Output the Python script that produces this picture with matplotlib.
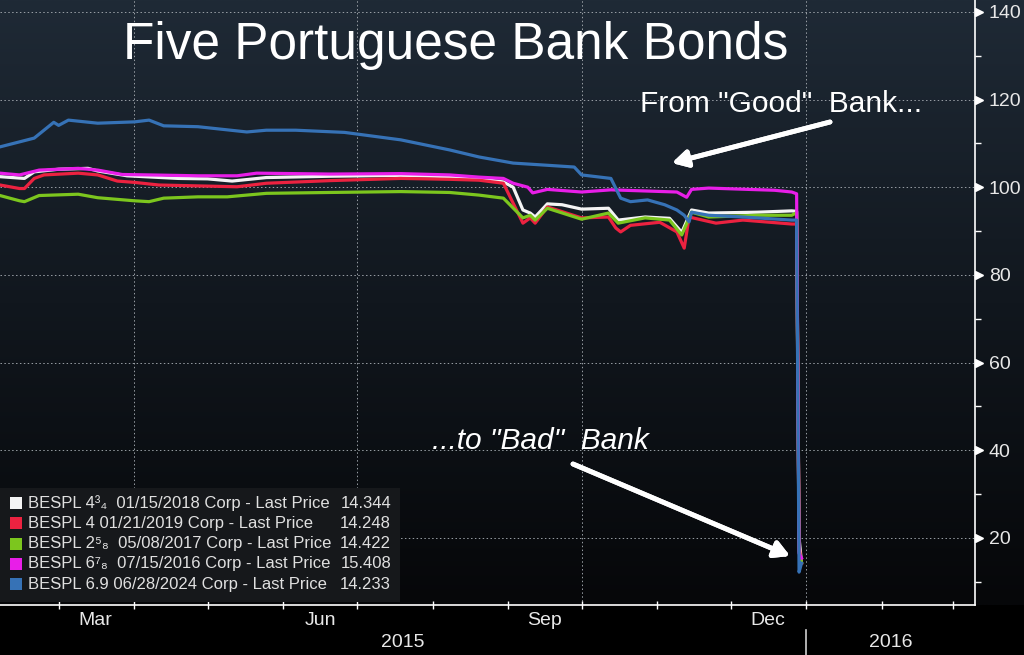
import numpy as np
import pandas as pd
import matplotlib
matplotlib.use("Agg")
import matplotlib.pyplot as plt
import matplotlib.dates as mdates
from matplotlib.patches import Rectangle

# ---- data ----
white_dates = ["2015-02-05", "2015-02-15", "2015-02-19", "2015-03-01", "2015-03-13", "2015-03-17",
               "2015-03-29", "2015-04-19", "2015-05-01", "2015-05-11", "2015-05-25", "2015-06-20",
               "2015-07-19", "2015-08-08", "2015-08-20", "2015-08-30", "2015-09-03", "2015-09-07",
               "2015-09-10", "2015-09-12", "2015-09-17", "2015-09-23", "2015-10-01", "2015-10-12",
               "2015-10-16", "2015-10-27", "2015-11-06", "2015-11-11", "2015-11-15", "2015-11-22",
               "2015-12-12", "2015-12-26", "2015-12-28", "2015-12-29", "2015-12-30"]
white_vals = [102.4, 102.0, 103.5, 104.1, 104.3, 103.7, 102.6, 102.0, 101.9, 101.4, 102.2, 102.5,
              102.7, 102.4, 101.9, 101.2, 100.0, 94.8, 94.1, 93.2, 96.2, 96.0, 95.0, 95.2,
              92.5, 93.2, 92.9, 89.7, 94.8, 94.1, 94.3, 94.6, 94.5, 20.0, 14.344]

red_dates = ["2015-02-05", "2015-02-13", "2015-02-15", "2015-02-19", "2015-02-23", "2015-03-09",
             "2015-03-17", "2015-03-25", "2015-04-01", "2015-04-11", "2015-04-27", "2015-05-13",
             "2015-05-25", "2015-06-20", "2015-07-19", "2015-08-08", "2015-08-20", "2015-08-30",
             "2015-09-07", "2015-09-10", "2015-09-12", "2015-09-17", "2015-10-01", "2015-10-12",
             "2015-10-15", "2015-10-17", "2015-10-21", "2015-11-02", "2015-11-09", "2015-11-12",
             "2015-11-14", "2015-11-25", "2015-12-06", "2015-12-26", "2015-12-28", "2015-12-29",
             "2015-12-30"]
red_vals = [100.5, 99.7, 99.7, 102.0, 102.8, 103.2, 102.8, 101.4, 101.1, 100.5, 100.3, 100.1,
            100.9, 101.5, 102.0, 101.8, 101.6, 100.9, 91.8, 93.0, 91.8, 95.5, 93.0, 93.2,
            90.7, 89.8, 91.3, 92.0, 89.8, 86.1, 93.2, 91.8, 92.5, 91.6, 91.6, 18.0, 14.248]

green_dates = ["2015-02-05", "2015-02-13", "2015-02-15", "2015-02-21", "2015-03-09", "2015-03-17",
               "2015-04-01", "2015-04-07", "2015-04-13", "2015-04-27", "2015-05-09", "2015-05-25",
               "2015-06-20", "2015-07-19", "2015-08-08", "2015-08-20", "2015-08-30", "2015-09-07",
               "2015-09-10", "2015-09-12", "2015-09-17", "2015-10-01", "2015-10-12", "2015-10-16",
               "2015-10-27", "2015-11-06", "2015-11-11", "2015-11-15", "2015-11-22", "2015-12-12",
               "2015-12-26", "2015-12-28", "2015-12-29", "2015-12-30"]
green_vals = [98.1, 96.9, 96.7, 98.1, 98.4, 97.6, 96.9, 96.7, 97.5, 97.8, 97.8, 98.6,
              98.8, 99.0, 98.8, 98.2, 97.5, 93.0, 93.6, 92.5, 95.2, 92.7, 94.1, 91.8,
              93.0, 92.5, 89.1, 94.3, 93.2, 93.6, 93.6, 94.2, 17.0, 14.422]

magenta_dates = ["2015-02-05", "2015-02-13", "2015-02-21", "2015-03-09", "2015-03-17", "2015-03-27",
                 "2015-04-07", "2015-04-27", "2015-05-13", "2015-05-21", "2015-06-20", "2015-07-19",
                 "2015-08-08", "2015-08-20", "2015-08-30", "2015-09-03", "2015-09-09", "2015-09-11",
                 "2015-09-17", "2015-10-01", "2015-10-13", "2015-11-09", "2015-11-13", "2015-11-15",
                 "2015-11-22", "2015-12-19", "2015-12-26", "2015-12-28", "2015-12-29", "2015-12-30"]
magenta_vals = [103.2, 102.8, 103.9, 104.3, 103.9, 102.9, 102.8, 102.6, 102.6, 103.2, 103.0, 103.1,
                102.8, 102.3, 102.0, 100.9, 100.0, 98.7, 99.5, 98.9, 99.4, 98.9, 97.7, 99.5,
                99.8, 99.3, 98.9, 98.5, 16.5, 15.408]

blue_dates = ["2015-02-05", "2015-02-19", "2015-02-27", "2015-03-01", "2015-03-05", "2015-03-17",
              "2015-04-01", "2015-04-07", "2015-04-13", "2015-04-27", "2015-05-17", "2015-05-25",
              "2015-06-06", "2015-06-26", "2015-07-19", "2015-08-08", "2015-08-20", "2015-09-03",
              "2015-09-17", "2015-09-28", "2015-10-01", "2015-10-13", "2015-10-17", "2015-10-21",
              "2015-10-28", "2015-11-04", "2015-11-09", "2015-11-12", "2015-11-14", "2015-11-15",
              "2015-11-22", "2015-12-06", "2015-12-26", "2015-12-28", "2015-12-29", "2015-12-30"]
blue_vals = [109.2, 111.2, 114.8, 114.1, 115.3, 114.6, 114.9, 115.3, 114.0, 113.8, 112.6, 113.0,
             113.0, 112.5, 110.8, 108.5, 106.9, 105.5, 105.0, 104.6, 102.8, 102.0, 97.5, 96.7,
             97.1, 96.0, 94.8, 93.6, 92.1, 94.3, 93.6, 93.2, 92.5, 92.5, 12.2, 14.233]

series_labels = ["BESPL 4\u00b3\u2084  01/15/2018 Corp - Last Price",
                 "BESPL 4 01/21/2019 Corp - Last Price",
                 "BESPL 2\u2075\u2088  05/08/2017 Corp - Last Price",
                 "BESPL 6\u2077\u2088  07/15/2016 Corp - Last Price",
                 "BESPL 6.9 06/28/2024 Corp - Last Price"]
last_prices = ["14.344", "14.248", "14.422", "15.408", "14.233"]
series_colors = ["#f4f4f4", "#ec2240", "#7cc61e", "#e81ee8", "#3672b6"]

month_labels = ["Mar", "Jun", "Sep", "Dec"]
month_label_dates = ["2015-03-16", "2015-06-16", "2015-09-16", "2015-12-16"]
year_labels = ["2015", "2016"]

W, H = 1024, 655
FONT = ["Liberation Sans", "DejaVu Sans"]
plt.rcParams["font.family"] = FONT


def px(x, y):
    # pixel position -> figure fraction
    return x / W, 1 - y / H


fig = plt.figure(figsize=(W / 100, H / 100), dpi=100, facecolor="black")

plot_bottom = 605
ax_bottom = 1 - plot_bottom / H

# gradient background behind the plot area
bg = fig.add_axes([0, ax_bottom, 1, 1 - ax_bottom])
top = np.array([31, 42, 54]) / 255
mid = np.array([17, 23, 30]) / 255
bot = np.array([6, 7, 9]) / 255
t = np.linspace(0, 1, 256)[:, None]
grad = np.where(t < 0.5, top + (mid - top) * (t / 0.5), mid + (bot - mid) * ((t - 0.5) / 0.5))
bg.imshow(grad[:, None, :].repeat(2, axis=1), aspect="auto", extent=[0, 1, 0, 1])
bg.set_axis_off()

ax = fig.add_axes([0, ax_bottom, 975 / W, 1 - ax_bottom])
ax.set_facecolor("none")

all_series = [(white_dates, white_vals), (red_dates, red_vals), (green_dates, green_vals),
              (magenta_dates, magenta_vals), (blue_dates, blue_vals)]
for (d, v), c in zip(all_series, series_colors):
    ax.plot(pd.to_datetime(d), v, color=c, lw=2.3, solid_joinstyle="round", zorder=3)

ax.set_xlim(pd.Timestamp("2015-02-05"), pd.Timestamp("2016-03-10"))
ax.set_ylim(4.7, 142.7)

# spines
for s in ["left", "top"]:
    ax.spines[s].set_visible(False)
for s in ["right", "bottom"]:
    ax.spines[s].set_color("white")
    ax.spines[s].set_linewidth(1.2)

# y axis on the right
ax.yaxis.tick_right()
ax.set_yticks(np.arange(20, 141, 20))
ax.set_yticks(np.arange(10, 141, 20), minor=True)
ax.tick_params(axis="y", which="major", length=0, pad=10, labelsize=14, labelcolor="#e8e8e8")
ax.tick_params(axis="y", which="minor", length=4, width=1, color="white", direction="out")
for yv in np.arange(20, 141, 20):
    ax.plot([1.004], [yv], marker=">", ms=6, color="white", transform=ax.get_yaxis_transform(),
            clip_on=False, zorder=5)

# x axis: monthly ticks, quarter grid, centered month names
ax.xaxis.set_major_locator(mdates.MonthLocator())
ax.xaxis.set_major_formatter(plt.NullFormatter())
ax.tick_params(axis="x", which="major", length=6, width=1, color="white", direction="inout")
ax.set_xticks(pd.to_datetime(month_label_dates), minor=True)
ax.set_xticklabels(month_labels, minor=True)
ax.tick_params(axis="x", which="minor", length=0, pad=5, labelsize=14, labelcolor="#e8e8e8")

# grid
for yv in np.arange(20, 141, 20):
    ax.axhline(yv, color="#9aa0a6", lw=0.7, ls=(0, (1.5, 2.5)), zorder=1)
for d in ["2015-04-01", "2015-07-01", "2015-10-01", "2016-01-01"]:
    ax.axvline(pd.Timestamp(d), color="#9aa0a6", lw=0.7, ls=(0, (1.5, 2.5)), zorder=1)

# year row
xt = ax.get_xaxis_transform()
x0, x1 = ax.get_xlim()
jan = mdates.date2num(pd.Timestamp("2016-01-01"))
ax.text((x0 + jan) / 2, -0.062, year_labels[0], transform=xt, ha="center", va="center",
        fontsize=14, color="#e8e8e8")
ax.text((jan + x1) / 2, -0.062, year_labels[1], transform=xt, ha="center", va="center",
        fontsize=14, color="#e8e8e8")
ax.plot([jan, jan], [-0.042, -0.09], transform=xt, color="#cfcfcf", lw=1.2, clip_on=False)

# legend box
fig.patches.append(Rectangle(px(0, 602), 400 / W, 114 / H, transform=fig.transFigure,
                             facecolor="#16181b", edgecolor="none", zorder=4))
for i, (lab, val, c) in enumerate(zip(series_labels, last_prices, series_colors)):
    yc = 503 + i * 20.3
    fig.patches.append(Rectangle(px(10, yc + 6), 12 / W, 12 / H, transform=fig.transFigure,
                                 facecolor=c, edgecolor="none", zorder=5))
    fig.text(*px(28, yc), lab, fontsize=12, color="#e0e0e0", va="center", ha="left", zorder=6)
    fig.text(*px(391, yc), val, fontsize=12, color="#e0e0e0", va="center", ha="right", zorder=6)

# title and annotations
fig.text(*px(456, 46), "Five Portuguese Bank Bonds", fontsize=37, color="white",
         ha="center", va="center")
fig.text(*px(640, 104), "From \"Good\"  Bank...", fontsize=21.5, color="white",
         ha="left", va="center")
fig.text(*px(432, 441), "...to \"Bad\"  Bank", fontsize=21.5, color="white", style="italic",
         ha="left", va="center")
arrow = dict(arrowstyle="-|>,head_length=0.9,head_width=0.5", color="white", lw=3.5,
             shrinkA=0, shrinkB=0)
fig.add_artist(plt.annotate("", xy=px(672, 163), xytext=px(830, 122), xycoords="figure fraction",
                            arrowprops=arrow))
fig.add_artist(plt.annotate("", xy=px(790, 556), xytext=px(573, 464), xycoords="figure fraction",
                            arrowprops=arrow))

fig.savefig("out.png", dpi=100, facecolor="black")
